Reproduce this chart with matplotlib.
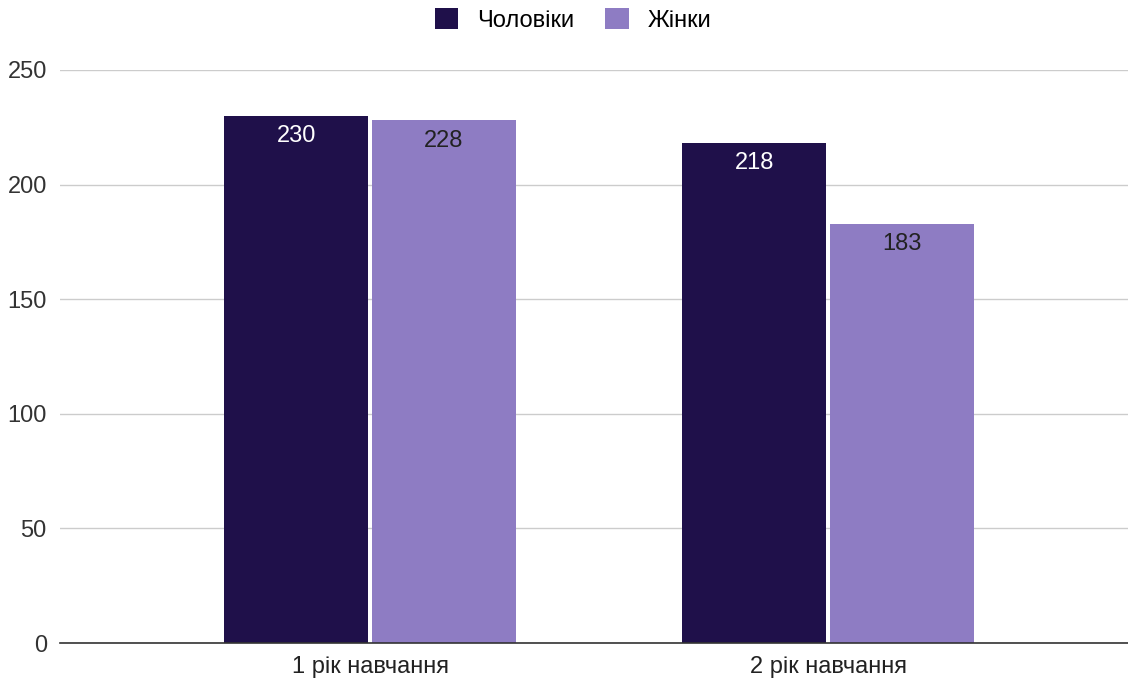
import matplotlib
matplotlib.use("Agg")
import matplotlib.pyplot as plt
import numpy as np

categories = ["1 рік навчання", "2 рік навчання"]
series_names = ["Чоловіки", "Жінки"]
men = [230, 218]
women = [228, 183]
yticks = [0, 50, 100, 150, 200, 250]

plt.rcParams['font.family'] = ['Liberation Sans', 'DejaVu Sans']

fig = plt.figure(figsize=(11.28, 6.79), dpi=100)
ax = fig.add_axes([60/1128, 36/679, 1068/1128, 573/679])

x = np.arange(len(categories))
w = 0.314
off = 0.161
colors = ["#1f104a", "#8e7cc3"]
label_colors = ["white", "#222222"]
for i, (vals, name) in enumerate(zip([men, women], series_names)):
    pos = x + (-off if i == 0 else off)
    bars = ax.bar(pos, vals, width=w, color=colors[i], label=name, zorder=3)
    for b, v in zip(bars, vals):
        ax.annotate(str(v), (b.get_x() + b.get_width()/2, v), xytext=(0, -14.5),
                    textcoords="offset points", ha="center", va="center",
                    fontsize=17, color=label_colors[i], zorder=4)

ax.set_xlim(-0.677, 1.655)
ax.set_ylim(0, 250)
ax.set_yticks(yticks)
ax.set_yticklabels([str(t) for t in yticks], fontsize=17, color="#333333")
ax.set_xticks(x)
ax.set_xticklabels(categories, fontsize=17, color="#222222")
ax.tick_params(axis='both', length=0)
ax.tick_params(axis='y', pad=9.5)
ax.tick_params(axis='x', pad=9)
ax.grid(axis='y', color="#cccccc", linewidth=1, zorder=0)
for s in ["top", "right", "left"]:
    ax.spines[s].set_visible(False)
ax.spines["bottom"].set_color("#333333")
ax.spines["bottom"].set_linewidth(1.2)
ax.spines["bottom"].set_zorder(5)

fig.legend(loc="center", bbox_to_anchor=(573/1128, 1 - 20/679), ncol=2, frameon=False,
           fontsize=17, handlelength=1.0, handleheight=1.0, columnspacing=1.3,
           handletextpad=0.8)

fig.savefig("out.png", dpi=100)
